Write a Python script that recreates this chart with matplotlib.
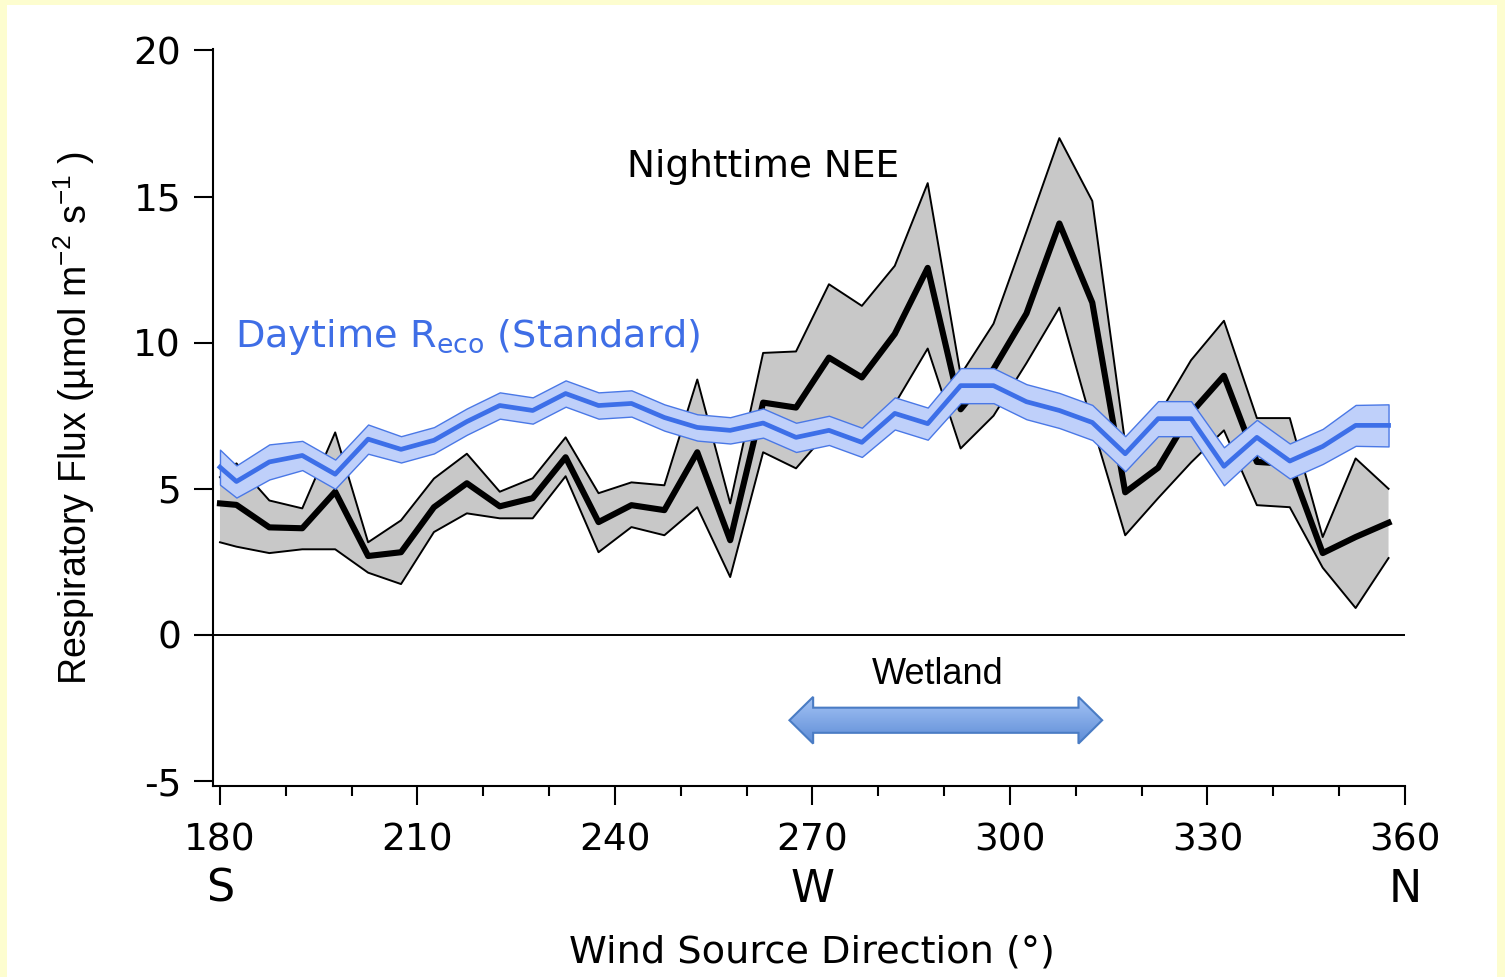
import numpy as np
import matplotlib.pyplot as plt
from matplotlib.patches import Polygon, Rectangle
from matplotlib.colors import LinearSegmentedColormap

plt.rcParams['axes.unicode_minus'] = False

# wind direction bins (degrees)
direction = [180.0, 182.5, 187.5, 192.5, 197.5, 202.5, 207.5, 212.5, 217.5, 222.5,
             227.5, 232.5, 237.5, 242.5, 247.5, 252.5, 257.5, 262.5, 267.5, 272.5,
             277.5, 282.5, 287.5, 292.5, 297.5, 302.5, 307.5, 312.5, 317.5, 322.5,
             327.5, 332.5, 337.5, 342.5, 347.5, 352.5, 357.5]

# nighttime NEE with its confidence envelope
nee = [4.5, 4.45, 3.68, 3.65, 4.9, 2.7, 2.83, 4.37, 5.19, 4.4,
       4.68, 6.08, 3.86, 4.44, 4.27, 6.25, 3.24, 7.95, 7.78, 9.49,
       8.81, 10.3, 12.56, 7.72, 9.1, 11.0, 14.08, 11.37, 4.88, 5.72,
       7.6, 8.87, 5.92, 5.85, 2.8, 3.35, 3.84]
nee_hi = [5.4, 5.87, 4.6, 4.33, 6.93, 3.17, 3.92, 5.35, 6.2, 4.9,
          5.36, 6.76, 4.85, 5.22, 5.12, 8.74, 4.5, 9.65, 9.7, 12.0,
          11.26, 12.63, 15.46, 8.9, 10.65, 13.8, 17.0, 14.85, 6.55, 7.5,
          9.4, 10.75, 7.42, 7.42, 3.35, 6.04, 5.0]
nee_lo = [3.17, 3.02, 2.8, 2.93, 2.93, 2.13, 1.74, 3.52, 4.16, 3.99,
          3.99, 5.43, 2.83, 3.69, 3.41, 4.37, 1.98, 6.25, 5.7, 7.0,
          6.9, 7.9, 9.8, 6.38, 7.5, 9.3, 11.2, 7.2, 3.41, 4.68,
          5.9, 7.0, 4.44, 4.37, 2.3, 0.92, 2.63]

# daytime Reco (standard partitioning) and its half-width
reco = [5.74, 5.25, 5.92, 6.14, 5.5, 6.7, 6.35, 6.66, 7.3, 7.85,
        7.68, 8.26, 7.85, 7.92, 7.44, 7.1, 7.0, 7.25, 6.76, 7.0,
        6.59, 7.58, 7.23, 8.53, 8.53, 7.98, 7.68, 7.27, 6.2, 7.4,
        7.4, 5.77, 6.76, 5.95, 6.45, 7.17, 7.17]
reco_err = [0.6, 0.55, 0.6, 0.5, 0.5, 0.5, 0.45, 0.45, 0.45, 0.45,
            0.45, 0.45, 0.45, 0.45, 0.45, 0.45, 0.45, 0.5, 0.5, 0.5,
            0.5, 0.55, 0.55, 0.6, 0.6, 0.6, 0.6, 0.6, 0.6, 0.6,
            0.6, 0.65, 0.6, 0.6, 0.6, 0.7, 0.72]

major_ticks = [180, 210, 240, 270, 300, 330, 360]
minor_ticks = [190, 200, 220, 230, 250, 260, 280, 290, 310, 320, 340, 350]
y_ticks = [-5, 0, 5, 10, 15, 20]
compass_pos = [180, 270, 360]
compass_lbl = ['S', 'W', 'N']
wetland_span = (266.5, 314.0)
wetland_y = -2.92

x = np.array(direction)
reco = np.array(reco)
reco_err = np.array(reco_err)

fig = plt.figure(figsize=(15.05, 9.77), dpi=100)
fig.patch.set_facecolor('#fdfdcf')
fig.add_artist(Rectangle((7 / 1505, 0), 1490 / 1505, 972 / 977,
                         transform=fig.transFigure, facecolor='white',
                         edgecolor='none', zorder=-1))

ax = fig.add_axes([213 / 1505, 1 - 786 / 977, 1192 / 1505, 737 / 977])

# nighttime NEE
ax.fill_between(x, nee_lo, nee_hi, facecolor='#c8c8c8', edgecolor='none', zorder=2)
ax.plot(x, nee_hi, color='black', lw=1.4, zorder=3)
ax.plot(x, nee_lo, color='black', lw=1.4, zorder=3)
ax.plot(x, nee, color='black', lw=4.4, zorder=4)

# daytime Reco
ax.fill_between(x, reco - reco_err, reco + reco_err, facecolor='#bfd0fa',
                edgecolor='#4a78e6', lw=1.0, zorder=5)
ax.plot(x, reco, color='#3d6fe8', lw=3.4, zorder=6)

ax.axhline(0, color='black', lw=1.4, zorder=1)

# axes styling
for side in ['top', 'right']:
    ax.spines[side].set_visible(False)
for side in ['left', 'bottom']:
    ax.spines[side].set_linewidth(1.5)

ax.set_xticks(major_ticks)
ax.set_xticks(minor_ticks, minor=True)
ax.set_yticks(y_ticks)
ax.tick_params(axis='both', which='major', length=14, width=1.5, labelsize=27, pad=9)
ax.tick_params(axis='x', which='minor', length=7, width=1.5)
ax.tick_params(axis='x', which='major', pad=12)

for pos, lbl in zip(compass_pos, compass_lbl):
    ax.text(pos, -0.14, lbl, transform=ax.get_xaxis_transform(),
            ha='center', va='center', fontsize=32)

ax.set_ylabel(r'Respiratory Flux (µmol m$\mathregular{^{-2}}$ s$\mathregular{^{-1}}$ )',
              fontsize=27, family='Liberation Sans', labelpad=26)
fig.text(812 / 1505, 1 - 953 / 977, 'Wind Source Direction (°)',
         ha='center', va='center', fontsize=27.5)

ax.text(241.9, 16.0, 'Nighttime NEE', fontsize=27, ha='left', va='center')
ax.text(182.3, 10.2, r'Daytime $\mathregular{R_{eco}}$ (Standard)', fontsize=27.5,
        color='#3f6ee6', ha='left', va='center')

# wetland arrow
x0, x1 = wetland_span
head_len, head_h, shaft_h = 3.6, 0.8, 0.43
verts = [(x0, wetland_y), (x0 + head_len, wetland_y + head_h),
         (x0 + head_len, wetland_y + shaft_h), (x1 - head_len, wetland_y + shaft_h),
         (x1 - head_len, wetland_y + head_h), (x1, wetland_y),
         (x1 - head_len, wetland_y - head_h), (x1 - head_len, wetland_y - shaft_h),
         (x0 + head_len, wetland_y - shaft_h), (x0 + head_len, wetland_y - head_h)]
arrow = Polygon(verts, closed=True, facecolor='none', edgecolor='#4a7cc4',
                lw=1.5, zorder=8)
ax.add_patch(arrow)
grad = LinearSegmentedColormap.from_list('arrow', ['#5d8cd6', '#a4c3f5'])
img = ax.imshow(np.linspace(0, 1, 100).reshape(-1, 1), cmap=grad, aspect='auto',
                origin='lower', extent=(x0, x1, wetland_y - head_h, wetland_y + head_h),
                zorder=7)
img.set_clip_path(arrow)
ax.set_xlim(178.94, 360)
ax.set_ylim(-5.17, 20.05)
ax.text(289.0, -1.37, 'Wetland', fontsize=26, family='Liberation Sans',
        ha='center', va='center')

fig.savefig('out.png', dpi=100, facecolor=fig.get_facecolor())
